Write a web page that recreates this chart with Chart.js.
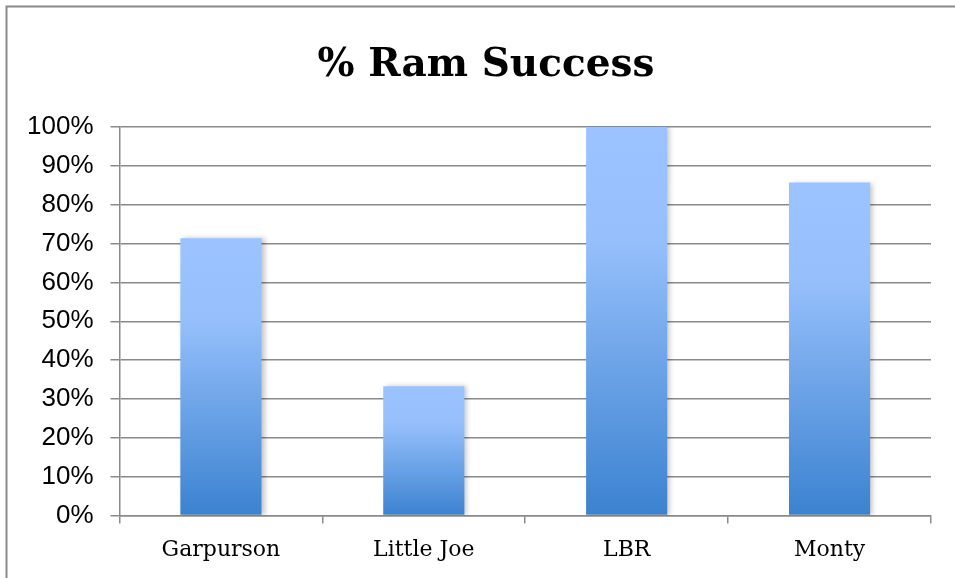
<!DOCTYPE html>
<html>
<head>
<meta charset="utf-8">
<script src="https://cdn.jsdelivr.net/npm/chart.js@4"></script>
<style>
  html, body { margin: 0; padding: 0; background: #fff; overflow: hidden; }
  #wrap { position: relative; width: 955px; height: 578px; }
</style>
</head>
<body>
<div id="wrap"><canvas id="ramChart" width="955" height="578"></canvas></div>
<script>
// dữ liệu biểu đồ
const categories = ['Garpurson', 'Little Joe', 'LBR', 'Monty'];
const successPct = [71.4, 33.3, 100, 85.7];
const yTicks = [0, 10, 20, 30, 40, 50, 60, 70, 80, 90, 100];
const chartTitle = '% Ram Success';

// gradient cho từng cột, từ đỉnh cột xuống đáy
function barGradient(context) {
    const chart = context.chart;
    if (!chart.chartArea || context.type !== 'data') return '#8fb9f5';
    const yScale = chart.scales.y;
    const top = yScale.getPixelForValue(context.raw);
    const bottom = yScale.getPixelForValue(0);
    const g = chart.ctx.createLinearGradient(0, top, 0, bottom);
    g.addColorStop(0, '#9cc3ff');
    g.addColorStop(0.3, '#95bffb');
    g.addColorStop(1, '#3b82d0');
    return g;
}

// khung viền + tiêu đề + bóng đổ của cột
const framePlugin = {
    id: 'frame',
    beforeDraw(chart) {
        const ctx = chart.ctx;
        ctx.save();
        ctx.strokeStyle = '#8a8a8a';
        ctx.lineWidth = 2;
        ctx.beginPath();
        ctx.moveTo(6.5, chart.height);
        ctx.lineTo(6.5, 6.5);
        ctx.lineTo(chart.width, 6.5);
        ctx.stroke();
        ctx.fillStyle = '#000';
        ctx.font = 'bold 39px "DejaVu Serif", serif';
        ctx.textAlign = 'center';
        ctx.textBaseline = 'alphabetic';
        ctx.fillText(chartTitle, 486, 76);
        ctx.restore();
    },
    beforeDatasetsDraw(chart) {
        const ctx = chart.ctx;
        ctx.save();
        ctx.shadowColor = 'rgba(0,0,0,0.22)';
        ctx.shadowBlur = 5;
        ctx.shadowOffsetX = 3;
        ctx.shadowOffsetY = 0;
    },
    afterDatasetsDraw(chart) {
        chart.ctx.restore();
    }
};

new Chart(document.getElementById('ramChart'), {
    type: 'bar',
    data: {
        labels: categories,
        datasets: [{
            label: chartTitle,
            data: successPct,
            backgroundColor: barGradient,
            borderWidth: 0,
            barPercentage: 0.4,
            categoryPercentage: 1
        }]
    },
    options: {
        responsive: false,
        animation: false,
        events: [],
        layout: { padding: { left: 10, right: 24, top: 127, bottom: 2 } },
        plugins: {
            legend: { display: false },
            tooltip: { enabled: false }
        },
        scales: {
            x: {
                offset: true,
                grid: {
                    offset: true,
                    drawOnChartArea: false,
                    tickLength: 8,
                    color: '#8a8a8a',
                    lineWidth: 1.5
                },
                border: { display: true, color: '#8a8a8a', width: 1.5 },
                ticks: {
                    color: '#000',
                    padding: 13,
                    font: { family: '"DejaVu Serif", serif', size: 22 }
                }
            },
            y: {
                min: 0,
                max: 100,
                afterBuildTicks(axis) {
                    axis.ticks = yTicks.map(v => ({ value: v }));
                },
                grid: {
                    color: '#8a8a8a',
                    lineWidth: 1.5,
                    tickLength: 9
                },
                border: { display: true, color: '#8a8a8a', width: 1.5 },
                ticks: {
                    color: '#000',
                    padding: 17,
                    font: { family: '"Liberation Sans", Arial, sans-serif', size: 26 },
                    callback: v => v + '%'
                }
            }
        }
    },
    plugins: [framePlugin]
});
</script>
</body>
</html>
